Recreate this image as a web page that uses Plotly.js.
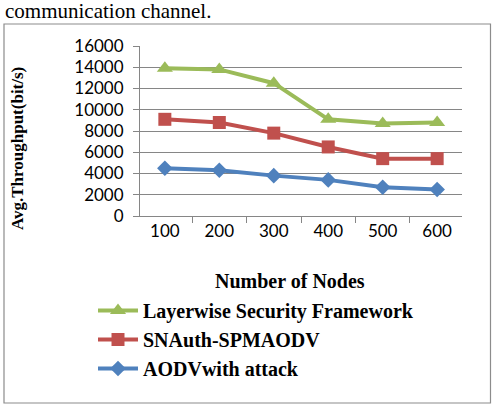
<!DOCTYPE html>
<html>
<head>
<meta charset="utf-8">
<script src="https://cdn.plot.ly/plotly-3.0.1.min.js"></script>
<style>
html,body{margin:0;padding:0;background:#fff;}
#chart{width:493px;height:404px;}
</style>
</head>
<body>
<div id="chart"></div>
<script>
const nodes = ["100", "200", "300", "400", "500", "600"];
const layerwise = [13900, 13800, 12500, 9100, 8700, 8800];
const snauth = [9100, 8800, 7800, 6500, 5400, 5400];
const aodvAttack = [4500, 4300, 3800, 3400, 2700, 2500];
const seriesNames = ["Layerwise Security Framework", "SNAuth-SPMAODV", "AODVwith attack"];
const yTicks = [0, 2000, 4000, 6000, 8000, 10000, 12000, 14000, 16000];

const L = 140, R = 462, T = 46, B = 216, W = 493, H = 404;
const px = x => (x - L) / (R - L);
const py = y => (B - y) / (B - T);

const traces = [
  {x: nodes, y: layerwise, name: seriesNames[0], type: 'scatter', mode: 'lines+markers',
   line: {color: '#9BBB59', width: 4}, marker: {symbol: 'triangle-up', size: 14, color: '#9BBB59'}},
  {x: nodes, y: snauth, name: seriesNames[1], type: 'scatter', mode: 'lines+markers',
   line: {color: '#C0504D', width: 4}, marker: {symbol: 'square', size: 13, color: '#C0504D'}},
  {x: nodes, y: aodvAttack, name: seriesNames[2], type: 'scatter', mode: 'lines+markers',
   line: {color: '#4F81BD', width: 4}, marker: {symbol: 'diamond', size: 12, color: '#4F81BD'}}
];

const layout = {
  width: W, height: H,
  margin: {l: L, r: W - R, t: T, b: H - B, pad: 0},
  paper_bgcolor: '#ffffff', plot_bgcolor: '#ffffff',
  showlegend: true,
  legend: {
    x: px(93), y: py(291), xanchor: 'left', yanchor: 'top',
    font: {family: 'Liberation Serif, Times New Roman, serif', size: 20, color: '#000', weight: 'bold'},
    itemwidth: 40, tracegroupgap: 0, bgcolor: 'rgba(0,0,0,0)'
  },
  xaxis: {
    type: 'category', tickson: 'boundaries', ticks: 'outside', ticklen: 6, tickcolor: '#868686',
    showline: true, linecolor: '#868686', linewidth: 1, showgrid: false, zeroline: false,
    tickfont: {family: 'Lato, Open Sans, sans-serif', size: 17, color: '#000'},
    fixedrange: true
  },
  yaxis: {
    range: [0, 16000], tickvals: yTicks, ticktext: yTicks.map(String),
    ticks: 'outside', ticklen: 6, tickcolor: '#868686',
    showline: true, linecolor: '#868686', linewidth: 1,
    showgrid: true, gridcolor: '#868686', gridwidth: 1, zeroline: false,
    tickfont: {family: 'Lato, Open Sans, sans-serif', size: 17, color: '#000'},
    ticklabelstandoff: 6,
    fixedrange: true
  },
  shapes: [
    {type: 'rect', xref: 'paper', yref: 'paper', x0: px(4), x1: px(490.5), y0: py(403), y1: py(24),
     line: {color: '#8c8c8c', width: 1.2}, fillcolor: 'rgba(0,0,0,0)', layer: 'below'}
  ],
  annotations: [
    {text: 'communication channel.', xref: 'paper', yref: 'paper', x: px(3), y: py(11),
     xanchor: 'left', yanchor: 'middle', showarrow: false,
     font: {family: 'Liberation Serif, Times New Roman, serif', size: 21, color: '#000'}},
    {text: '<b>Number of Nodes</b>', xref: 'paper', yref: 'paper', x: px(290), y: py(281),
     xanchor: 'center', yanchor: 'middle', showarrow: false,
     font: {family: 'Liberation Serif, Times New Roman, serif', size: 20, color: '#000'}},
    {text: '<b>Avg.Throughput(bit/s)</b>', xref: 'paper', yref: 'paper', x: px(17), y: py(149),
     xanchor: 'center', yanchor: 'middle', showarrow: false, textangle: -90,
     font: {family: 'Liberation Serif, Times New Roman, serif', size: 17, color: '#000'}}
  ]
};

Plotly.newPlot('chart', traces, layout, {displayModeBar: false, staticPlot: true});
</script>
</body>
</html>
